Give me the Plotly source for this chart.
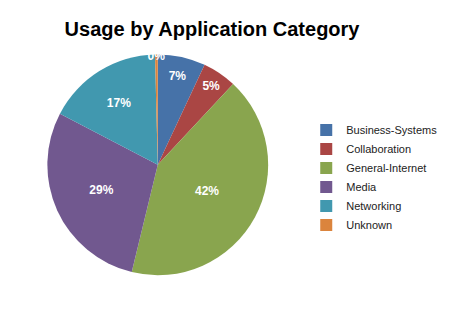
import plotly.graph_objects as go

categories = ["Business-Systems", "Collaboration", "General-Internet", "Media", "Networking", "Unknown"]
values = [7, 5, 42, 29, 17, 0.4]
colors = ["#4672A8", "#AA4644", "#89A54E", "#71588F", "#4198AF", "#DB843D"]

fig = go.Figure(go.Pie(
    labels=categories,
    values=values,
    sort=False,
    direction="clockwise",
    rotation=0,
    marker=dict(colors=colors, line=dict(width=0)),
    texttemplate="%{percent:.0%}",
    textposition="inside",
    insidetextorientation="horizontal",
    textfont=dict(family="Liberation Sans, Arial", size=12, color="white", weight="bold"),
    hoverinfo="label+percent",
    domain=dict(x=[0.0, 0.68], y=[0.14, 0.83]),
))

fig.update_layout(
    width=464, height=320,
    margin=dict(l=0, r=0, t=0, b=0),
    paper_bgcolor="white",
    plot_bgcolor="white",
    title=dict(text="<b>Usage by Application Category</b>", x=0.457, xanchor="center", y=0.91, yanchor="middle",
               font=dict(family="Liberation Sans, Arial", size=20, color="black")),
    uniformtext=dict(minsize=12, mode="show"),
    legend=dict(x=0.66, y=0.445, xanchor="left", yanchor="middle",
                font=dict(family="Liberation Sans, Arial", size=11, color="#222"),
                itemwidth=30, traceorder="normal"),
    showlegend=True,
)

fig.write_html("out.html")
